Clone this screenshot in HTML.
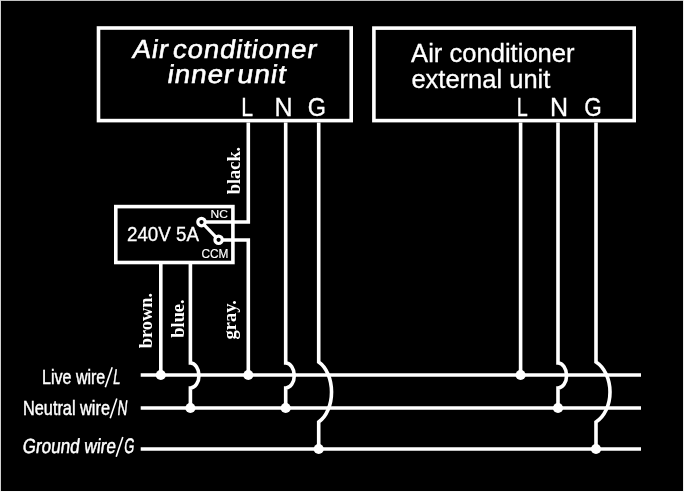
<!DOCTYPE html>
<html><head><meta charset="utf-8">
<style>
html,body{margin:0;padding:0;background:#000;}
body{width:684px;height:492px;overflow:hidden;}
svg{display:block;will-change:transform;}
text{fill:#fff;}
.s{font-family:"Liberation Sans",sans-serif;}
.r{font-family:"Liberation Serif",serif;font-weight:bold;}
</style></head><body>
<svg width="684" height="492" viewBox="0 0 684 492">
<rect x="0" y="0" width="684" height="492" fill="#000"/>
<rect x="0" y="0" width="684" height="1" fill="#c0c0c0"/><rect x="0" y="0" width="1" height="492" fill="#d0d0d0"/><rect x="683" y="0" width="1" height="492" fill="#ececec"/><rect x="0" y="491" width="684" height="1" fill="#fafafa"/>
<g fill="none" stroke="#fff" stroke-width="3.6" stroke-linecap="butt" stroke-linejoin="miter">
  <!-- unit boxes -->
  <rect x="98.5" y="28" width="252.7" height="92.6"/>
  <rect x="373.9" y="28.1" width="260.3" height="92.5"/>
  <!-- relay box -->
  <rect x="115.8" y="206.6" width="117.1" height="55.9"/>
  <!-- bus lines -->
  <path d="M140.7 375H641M140.7 408H641M140.7 449H641"/>
  <!-- inner L wire to NC -->
  <path d="M248.3 122.4V222H201.5"/>
  <!-- gray wire -->
  <path d="M218.6 240H248.3V375"/>
  <!-- brown -->
  <path d="M160.8 262.5V375"/>
  <!-- blue -->
  <path d="M190.4 262.5V363A8.6 12.5 0 0 1 190.4 388V408"/>
  <!-- inner N -->
  <path d="M285.7 122.4V363A8.6 12.5 0 0 1 285.7 388V408"/>
  <!-- inner G -->
  <path d="M318.7 122.4V362A22 33 0 0 1 318.7 422V449"/>
  <!-- ext L -->
  <path d="M520.6 122.4V375"/>
  <!-- ext N -->
  <path d="M558 122.4V363A8.6 12.5 0 0 1 558 388V408"/>
  <!-- ext G -->
  <path d="M596 122.4V362A24 33 0 0 1 596 422V449"/>
</g>
<!-- switch -->
<g fill="none" stroke="#fff" stroke-width="2.8">
  <path d="M201.5 222.1L218.6 239.8" stroke-width="3.2"/>
</g>
<circle cx="201.5" cy="222.1" r="3.7" fill="#000" stroke="#fff" stroke-width="3.2"/>
<circle cx="218.6" cy="239.8" r="3.7" fill="#000" stroke="#fff" stroke-width="3.2"/>
<!-- dots -->
<g fill="#fff">
  <circle cx="160.8" cy="375" r="5.1"/>
  <circle cx="248.3" cy="375" r="5.1"/>
  <circle cx="520.6" cy="375" r="5.1"/>
  <circle cx="190.4" cy="408" r="5.1"/>
  <circle cx="285.7" cy="408" r="5.1"/>
  <circle cx="558" cy="408" r="5.1"/>
  <circle cx="318.7" cy="449" r="5.1"/>
  <circle cx="596" cy="449" r="5.1"/>
</g>
<!-- texts -->
<g class="s">
  <g transform="translate(131.4 58) skewX(-9)"><text x="0" y="0" font-size="26" stroke="#fff" stroke-width="0.55" textLength="36.3" letter-spacing="0.8" lengthAdjust="spacingAndGlyphs">Air</text></g>
  <g transform="translate(171.8 58) skewX(-9)"><text x="0" y="0" font-size="26" stroke="#fff" stroke-width="0.55" textLength="144.5" letter-spacing="0.8" lengthAdjust="spacingAndGlyphs">conditioner</text></g>
  <g transform="translate(166.5 83.2) skewX(-9)"><text x="0" y="0" font-size="26" stroke="#fff" stroke-width="0.55" textLength="66.5" letter-spacing="0.8" lengthAdjust="spacingAndGlyphs">inner</text></g>
  <g transform="translate(236.3 83.2) skewX(-9)"><text x="0" y="0" font-size="26" stroke="#fff" stroke-width="0.55" textLength="49.5" letter-spacing="0.8" lengthAdjust="spacingAndGlyphs">unit</text></g>
  <text x="241.2" y="116" font-size="25" stroke="#fff" stroke-width="0.3" textLength="11.8" lengthAdjust="spacingAndGlyphs">L</text>
  <text x="274.5" y="116" font-size="25" stroke="#fff" stroke-width="0.3">N</text>
  <text x="307.8" y="116" font-size="25" stroke="#fff" stroke-width="0.3" textLength="18.2" lengthAdjust="spacingAndGlyphs">G</text>
  <text x="411.1" y="61.7" font-size="25" textLength="163.5" stroke="#fff" stroke-width="0.3" lengthAdjust="spacingAndGlyphs">Air conditioner</text>
  <text x="411.4" y="87.7" font-size="25" textLength="139" stroke="#fff" stroke-width="0.3" lengthAdjust="spacingAndGlyphs">external unit</text>
  <text x="516.8" y="116" font-size="25" stroke="#fff" stroke-width="0.3" textLength="11" lengthAdjust="spacingAndGlyphs">L</text>
  <text x="550" y="116" font-size="25" stroke="#fff" stroke-width="0.3">N</text>
  <text x="584.2" y="116" font-size="25" stroke="#fff" stroke-width="0.3" textLength="17.5" lengthAdjust="spacingAndGlyphs">G</text>
  <text x="127" y="240.7" font-size="19.5" stroke="#fff" stroke-width="0.3" textLength="72" lengthAdjust="spacingAndGlyphs">240V 5A</text>
  <text x="210.5" y="218.1" font-size="10.8" stroke="#fff" stroke-width="0.15" textLength="17.3" lengthAdjust="spacingAndGlyphs">NC</text>
  <text x="201.5" y="257.8" font-size="12" stroke="#fff" stroke-width="0.15" textLength="27" lengthAdjust="spacingAndGlyphs">CCM</text>
  <text x="42" y="383.7" font-size="20.4" stroke="#fff" stroke-width="0.45" textLength="63.3" lengthAdjust="spacingAndGlyphs">Live wire</text>
  <path d="M105.3 387.3L112.2 367.3" stroke="#fff" stroke-width="1.6" fill="none"/>
  <g transform="translate(112.5 383.6) skewX(-8)"><text x="0" y="0" font-size="21.2" stroke="#fff" stroke-width="0.45" textLength="7.3" lengthAdjust="spacingAndGlyphs">L</text></g>
  <text x="23" y="414.6" font-size="20.4" stroke="#fff" stroke-width="0.45" textLength="87" lengthAdjust="spacingAndGlyphs">Neutral wire</text>
  <path d="M110.2 418.3L116.8 398.5" stroke="#fff" stroke-width="1.6" fill="none"/>
  <g transform="translate(117 414.6) skewX(-6)"><text x="0" y="0" font-size="21" stroke="#fff" stroke-width="0.45" textLength="9.9" lengthAdjust="spacingAndGlyphs">N</text></g>
  <g transform="translate(22 453.3) skewX(-7)"><text x="0" y="0" font-size="20.4" stroke="#fff" stroke-width="0.5" textLength="93.2" lengthAdjust="spacingAndGlyphs">Ground wire</text></g>
  <path d="M116.2 456.8L122.8 437" stroke="#fff" stroke-width="1.6" fill="none"/>
  <g transform="translate(123.5 453.3) skewX(-7)"><text x="0" y="0" font-size="21" stroke="#fff" stroke-width="0.5" textLength="10.2" lengthAdjust="spacingAndGlyphs">G</text></g>
</g>
<g class="r" font-size="18.4">
  <text transform="translate(240.2 194.3) rotate(-90)">black.</text>
  <text transform="translate(152.1 348.3) rotate(-90)">brown.</text>
  <text transform="translate(183.5 337.7) rotate(-90)">blue.</text>
  <text transform="translate(236.4 339.4) rotate(-90)">gray.</text>
</g>
</svg>
</body></html>
